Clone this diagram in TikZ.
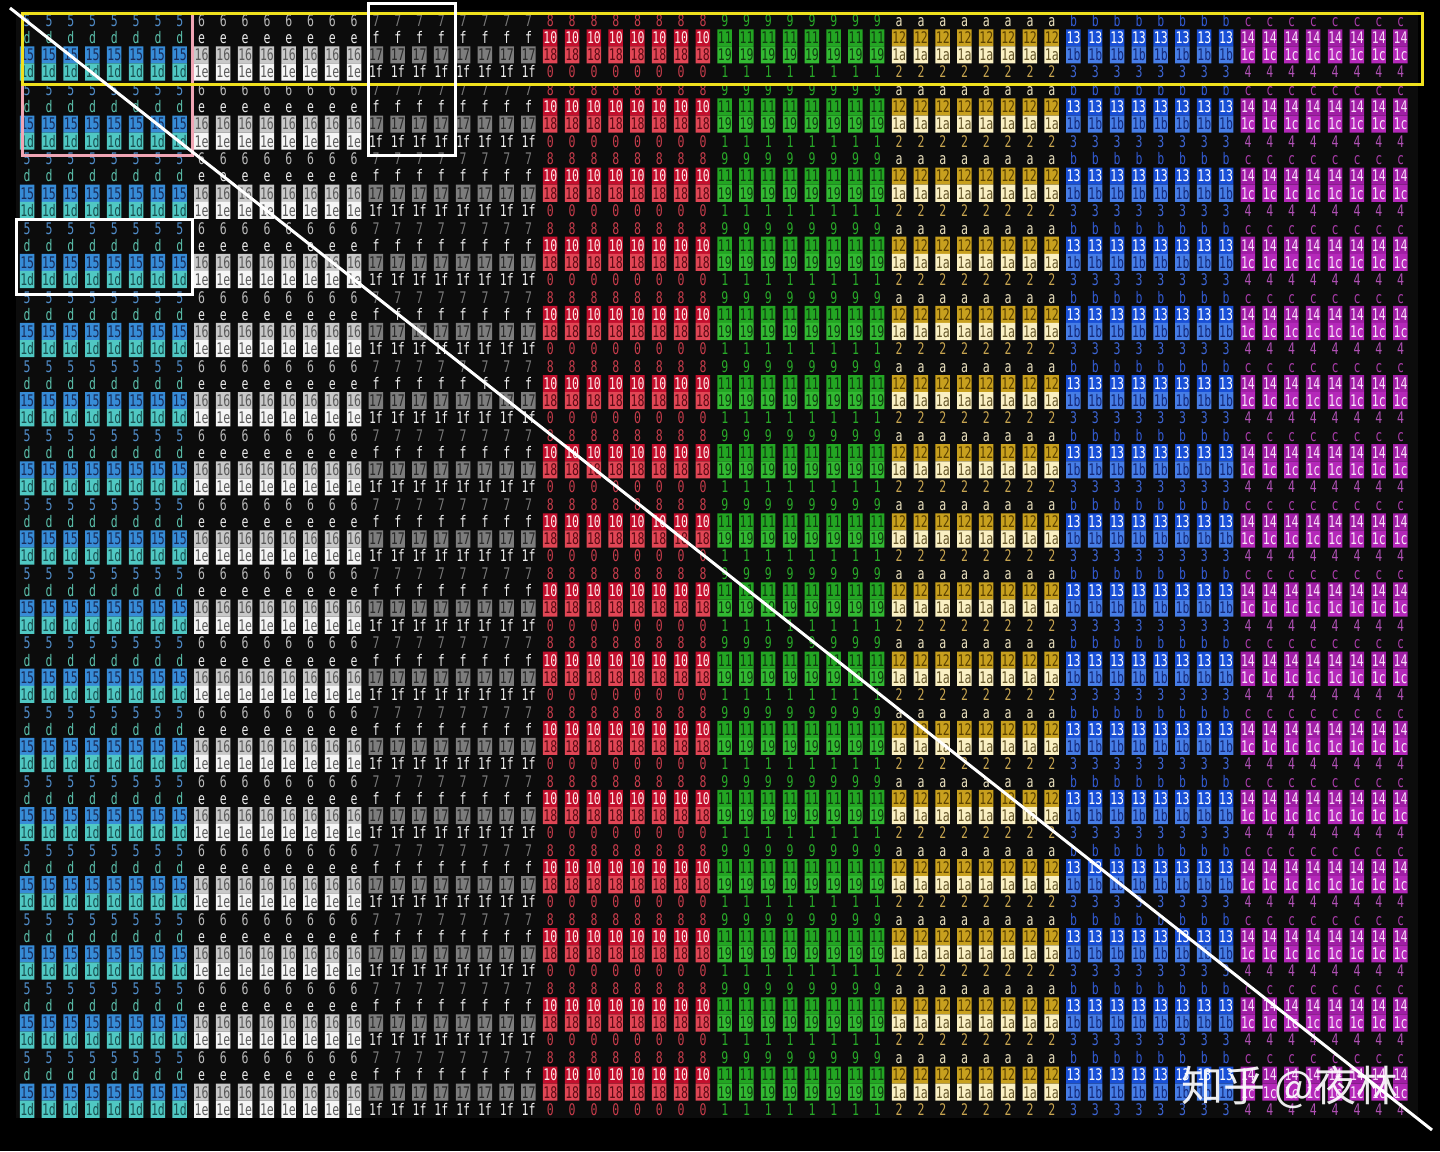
\documentclass[tikz,border=0pt]{standalone}
\usepackage{fontspec}
\newfontfamily\cellfont[FakeStretch=0.72]{DejaVu Sans Mono}
\newfontfamily\cjkfont{Noto Sans CJK SC}
\usetikzlibrary{calc}

\definecolor{gridbg}{RGB}{12,12,12}
\definecolor{marksyellow}{RGB}{240,225,30}
\definecolor{markspink}{RGB}{240,165,180}
% group A (blue / teal)
\definecolor{gAone}{RGB}{80,140,200}
\definecolor{gAtwo}{RGB}{90,190,170}
\definecolor{gAbox}{RGB}{55,140,215}
\definecolor{gAboxtext}{RGB}{25,45,90}
\definecolor{gAlow}{RGB}{80,200,195}
\definecolor{gAlowtext}{RGB}{25,80,80}
% group B (light grey / white)
\definecolor{gBone}{RGB}{185,185,185}
\definecolor{gBtwo}{RGB}{235,235,235}
\definecolor{gBbox}{RGB}{200,200,200}
\definecolor{gBlow}{RGB}{245,245,245}
\definecolor{gBboxtext}{RGB}{90,90,90}
% group C (dark grey)
\definecolor{gCone}{RGB}{120,120,120}
\definecolor{gCtwo}{RGB}{240,240,240}
\definecolor{gCbox}{RGB}{125,125,125}
\definecolor{gCboxtext}{RGB}{40,40,40}
% group D (red)
\definecolor{gDone}{RGB}{200,60,75}
\definecolor{gDtop}{RGB}{195,15,45}
\definecolor{gDtoptext}{RGB}{255,235,235}
\definecolor{gDbox}{RGB}{225,70,85}
\definecolor{gDboxtext}{RGB}{90,10,20}
% group E (green)
\definecolor{gEone}{RGB}{40,170,40}
\definecolor{gEtop}{RGB}{35,165,35}
\definecolor{gEbox}{RGB}{50,185,50}
\definecolor{gEboxtext}{RGB}{15,60,15}
% group F (yellow)
\definecolor{gFone}{RGB}{235,225,190}
\definecolor{gFtop}{RGB}{200,160,30}
\definecolor{gFtoptext}{RGB}{90,65,0}
\definecolor{gFbox}{RGB}{250,240,195}
\definecolor{gFboxtext}{RGB}{100,85,40}
\definecolor{gFfour}{RGB}{200,165,80}
% group G (blue)
\definecolor{gGone}{RGB}{50,90,210}
\definecolor{gGtop}{RGB}{25,80,215}
\definecolor{gGtoptext}{RGB}{255,255,255}
\definecolor{gGbox}{RGB}{70,125,230}
\definecolor{gGboxtext}{RGB}{20,40,120}
\definecolor{gGfour}{RGB}{60,100,210}
% group H (magenta)
\definecolor{gHone}{RGB}{170,60,170}
\definecolor{gHtop}{RGB}{160,30,165}
\definecolor{gHtoptext}{RGB}{250,220,250}
\definecolor{gHbox}{RGB}{180,40,185}
\definecolor{gHboxtext}{RGB}{250,230,250}
\definecolor{gHfour}{RGB}{175,80,180}

% one cell, eight cells of a group
\newcommand\cellone[1]{\makebox[21.8pt]{#1}}
\newcommand\cellgrp[2]{{\color{#1}\cellone{#2}\cellone{#2}\cellone{#2}\cellone{#2}%
  \cellone{#2}\cellone{#2}\cellone{#2}\cellone{#2}}}

% the four lines of a block
\newcommand\lineone{\cellgrp{gAone}{5}\cellgrp{gBone}{6}\cellgrp{gCone}{7}\cellgrp{gDone}{8}%
  \cellgrp{gEone}{9}\cellgrp{gFone}{a}\cellgrp{gGone}{b}\cellgrp{gHone}{c}}
\newcommand\linetwo{\cellgrp{gAtwo}{d}\cellgrp{gBtwo}{e}\cellgrp{gCtwo}{f}\cellgrp{gDtoptext}{10}%
  \cellgrp{gEboxtext}{11}\cellgrp{gFtoptext}{12}\cellgrp{gGtoptext}{13}\cellgrp{gHtoptext}{14}}
\newcommand\linethree{\cellgrp{gAboxtext}{15}\cellgrp{gBboxtext}{16}\cellgrp{gCboxtext}{17}\cellgrp{gDboxtext}{18}%
  \cellgrp{gEboxtext}{19}\cellgrp{gFboxtext}{1a}\cellgrp{gGboxtext}{1b}\cellgrp{gHboxtext}{1c}}
\newcommand\linefour{\cellgrp{gAlowtext}{1d}\cellgrp{gBboxtext}{1e}\cellgrp{gCtwo}{1f}\cellgrp{gDone}{0}%
  \cellgrp{gEone}{1}\cellgrp{gFfour}{2}\cellgrp{gGfour}{3}\cellgrp{gHfour}{4}}

\tikzset{
rowtext/.style={
  font=\cellfont\fontsize{16}{17}\selectfont,
  inner sep=0pt,
  anchor=west,
  text height=11.7pt,
  text depth=0pt
},
markbox/.style={line width=3pt},
diagline/.style={draw=white, line width=3pt}
}

\begin{document}
\begin{tikzpicture}[x=1pt, y=-1pt]

\useasboundingbox (0,0) rectangle (1440,1151);
\fill[black] (0,0) rectangle (1440,1151);
\fill[gridbg] (16,10) rectangle (1418,1118);

% ============================================================================
% CELL GRID: 8 groups x 8 columns, 16 blocks of 4 lines
% ============================================================================
\foreach \b in {0,...,15} {
  \pgfmathsetmacro\cy{20.7+69.15*\b}
  % colour boxes
  \foreach \gi/\l/\col in {0/3/gAbox, 0/4/gAlow, 1/3/gBbox, 1/4/gBlow, 2/3/gCbox,
      3/2/gDtop, 3/3/gDbox, 4/2/gEtop, 4/3/gEbox, 5/2/gFtop, 5/3/gFbox,
      6/2/gGtop, 6/3/gGbox, 7/2/gHtop, 7/3/gHbox}
    \fill[\col] \foreach \j in {0,...,7}
      {({27+21.8*(8*\gi+\j)-7.25}, {\cy+17.1*(\l-1)-8.55}) rectangle ++(14.5,17.1)};
  % text lines
  \node[rowtext] (row\b-1) at (16.1,\cy) {\lineone};
  \node[rowtext] (row\b-2) at (16.1,\cy+17.1) {\linetwo};
  \node[rowtext] (row\b-3) at (16.1,\cy+34.2) {\linethree};
  \node[rowtext] (row\b-4) at (16.1,\cy+51.3) {\linefour};
}

% ============================================================================
% MARKS
% ============================================================================
\draw[markbox, markspink] (22,13) rectangle (192,155);
\draw[markbox, marksyellow] (22,13) rectangle (1422,84);
\draw[markbox, white] (368,3) rectangle (455,155);
\draw[markbox, white] (16,219) rectangle (192,294);

% watermark
\node[font=\cjkfont\fontsize{42}{42}\selectfont, text=white, text opacity=0.92,
      inner sep=0pt] (watermark) at (1290,1087) {知乎 @夜林};

% diagonal
\coordinate (diagstart) at (10,8);
\coordinate (diagend) at (1432,1130);
\draw[diagline] (diagstart) -- (diagend);

\end{tikzpicture}
\end{document}
